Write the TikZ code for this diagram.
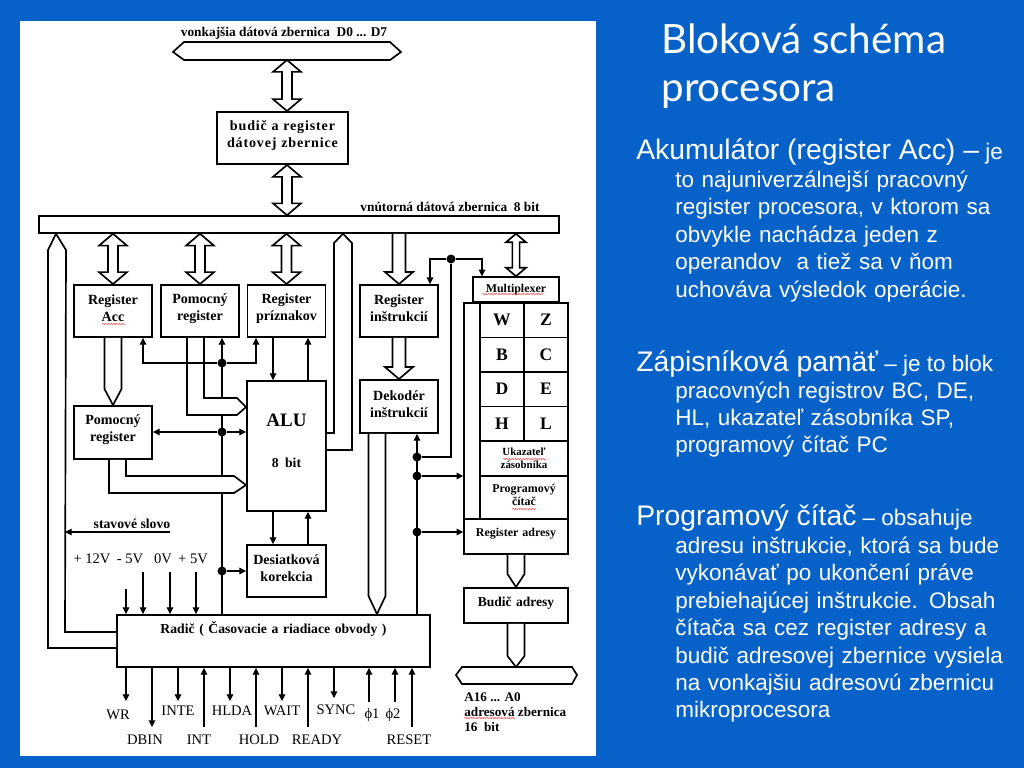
\documentclass[tikz,border=0pt]{standalone}
\usepackage{fontspec}
\setmainfont{Liberation Sans}
\newfontfamily\serifbox{Liberation Serif}
\newfontfamily\serifwide[LetterSpace=6]{Liberation Serif}
\newfontfamily\titlefont{Lato}
\usepackage{tikz}
\usetikzlibrary{calc,arrows.meta,decorations.pathmorphing}
\definecolor{slideblue}{RGB}{6,98,200}
\def\px{0.02cm}
\tikzset{
	sig/.style={line width=0.6pt},
	tip/.style={-{Triangle[length=3.8pt,width=3.8pt]}},
	bus/.style={line width=0.95pt,fill=white,line join=miter},
	basebox/.style={draw,line width=1.1pt,fill=white,inner sep=0pt,text width=74*\px,align=center,
		font=\serifbox\bfseries\fontsize{8}{9.6}\selectfont,minimum width=78*\px,minimum height=52*\px},
	regbox/.style={basebox,execute at end node={\par\kern 3pt}},
	sz/.style 2 args={text width=#1*\px-4*\px,minimum width=#1*\px,minimum height=#2*\px},
	thinbox/.style={line width=0.85pt},
	dot/.style={circle,fill=black,inner sep=0pt,minimum size=9*\px},
	lbl/.style={font=\serifbox\fontsize{8.3}{10}\selectfont,inner sep=0pt},
	blbl/.style={font=\serifbox\bfseries\fontsize{7.6}{9.4}\selectfont,inner sep=0pt},
	parahead/.style={anchor=base west,inner sep=0pt,text=white,font=\fontsize{12.8}{15.6}\selectfont},
	para/.style={parahead,text width=345*\px,align=left},
	wavy/.style={draw=red!75,line width=0.3pt,decorate,decoration={snake,amplitude=0.3pt,segment length=1.6pt}},
}
\newcommand{\headsize}{\fontsize{16.1}{18}\selectfont}
% hollow bus arrows: both ends, one flared end, one plain point
\newcommand{\busboth}[3][14]{
	\draw[bus] (#2) -- ++(-#1,0.85*#1) -- ++(0.64*#1,0) -- ($(#3)+(-0.36*#1,-0.85*#1)$) -- ++(-0.64*#1,0) -- (#3)
		-- ++(#1,-0.85*#1) -- ++(-0.64*#1,0) -- ($(#2)+(0.36*#1,0.85*#1)$) -- ++(0.64*#1,0) -- cycle;
}
\newcommand{\busdown}[2]{
	\draw[bus] ($(#1)+(-6.5,0)$) -- ($(#2)+(-6.5,-12)$) -- ++(-7.5,0) -- (#2) -- ++(14,-12) -- ++(-7.5,0) -- ($(#1)+(6.5,0)$);
}
\newcommand{\buspoint}[3][16]{
	\draw[bus] ($(#2)+(-8.5,0)$) -- ($(#3)+(-8.5,-#1)$) -- (#3) -- ($(#3)+(8.5,-#1)$) -- ($(#2)+(8.5,0)$);
}
\begin{document}
\begin{tikzpicture}[x=\px,y=-\px]
	\useasboundingbox (0,0) rectangle (1024,768);
	\fill[slideblue] (0,0) rectangle (1024,768);
	\fill[white] (20,21) rectangle (596,756);

	% title and text
	\node[anchor=west,inner sep=0pt,text=white,font=\titlefont\fontsize{23}{27}\selectfont,align=left] (title) at (661,66) {Bloková schéma\\procesora};
	\node[parahead] (akuhead) at (636,159.5) {{\headsize Akumulátor (register Acc) –} je};
	\node[para] (akubody) at (675,187.5) {to najuniverzálnejší pracovný\\register procesora, v ktorom sa\\obvykle nachádza jeden z\\operandov\ \ a tiež sa v ňom\\uchováva výsledok operácie.};
	\node[parahead] (zaphead) at (636,371) {{\headsize Zápisníková pamäť} – je to blok};
	\node[para] (zapbody) at (675,398) {pracovných registrov BC, DE,\\HL, ukazateľ zásobníka SP,\\programový čítač PC};
	\node[parahead] (prghead) at (636,525) {{\headsize Programový čítač} – obsahuje};
	\node[para] (prgbody) at (675,553.5) {adresu inštrukcie, ktorá sa bude\\vykonávať po ukončení práve\\prebiehajúcej inštrukcie. Obsah\\čítača sa cez register adresy a\\budič adresovej zbernice vysiela\\na vonkajšiu adresovú zbernicu\\mikroprocesora};

	% boxes
	\node[regbox,sz={131}{52},font=\serifwide\bfseries\fontsize{8}{10}\selectfont] (bufdata) at (282.5,138) {budič a register\\dátovej zbernice};
	\node[basebox,sz={520}{17},thinbox] (ibus) at (299,224.5) {};
	\node[regbox] (regacc) at (113,311) {Register\\Acc};
	\node[regbox] (regpom) at (200,311) {Pomocný\\register};
	\node[regbox] (regflag) at (286.5,311) {Register\\príznakov};
	\node[regbox] (regins) at (399,311) {Register\\inštrukcií};
	\node[regbox,sz={78}{53}] (regaux) at (113,432.5) {Pomocný\\register};
	\node[basebox,sz={79}{130}] (alu) at (286.5,446) {};
	\node[regbox,sz={78}{53}] (dekoder) at (399,406.5) {Dekodér\\inštrukcií};
	\node[regbox,sz={79}{52}] (bcd) at (286.5,571) {Desiatková\\korekcia};
	\node[basebox,sz={313}{52},font=\serifbox\bfseries\fontsize{7.8}{9.6}\selectfont,execute at end node={\par\kern 13.6pt}] (radic) at (273.5,641) {Radič ( Časovacie a riadiace obvody )};

	% right column
	\node[basebox,sz={86}{25},thinbox,font=\serifbox\bfseries\fontsize{6.8}{9}\selectfont] (mux) at (516,289.5) {Multiplexer};
	\node[basebox,sz={16}{216},thinbox] (regcol) at (472,411) {};
	\tikzset{cell/.style={basebox,sz={44}{34.5},thinbox,font=\serifbox\bfseries\fontsize{10}{11}\selectfont}}
	\node[cell] (cw) at (502,320) {W};
	\node[cell] (cz) at (546,320) {Z};
	\node[cell] (cb) at (502,354.5) {B};
	\node[cell] (cc) at (546,354.5) {C};
	\node[cell] (cd) at (502,389) {D};
	\node[cell] (ce) at (546,389) {E};
	\node[cell] (ch) at (502,423.5) {H};
	\node[cell] (cl) at (546,423.5) {L};
	\node[basebox,sz={88}{35},font=\serifbox\bfseries\fontsize{6.2}{7.4}\selectfont] (ukaz) at (524,458.5) {Ukazateľ\\zásobníka};
	\node[regbox,sz={88}{43},thinbox,font=\serifbox\bfseries\fontsize{6.8}{7.5}\selectfont] (progc) at (524,497.5) {Programový\\čítač};
	\node[regbox,sz={104}{35},thinbox,font=\serifbox\bfseries\fontsize{6.8}{9}\selectfont] (regadr) at (516,536.5) {Register adresy};
	\node[regbox,sz={104}{35},font=\serifbox\bfseries\fontsize{7.7}{9.6}\selectfont] (budic) at (516,605.5) {Budič adresy};

	% outer buses
	\draw[bus] (173,52) -- (184,42) -- (390,42) -- (401,52) -- (390,60) -- (184,60) -- cycle;
	\coordinate (extbus) at (287,60);
	\draw[bus] (456,675) -- (462,667) -- (572,667) -- (577,675) -- (572,684) -- (462,684) -- cycle;
	\coordinate (adrbus) at (516,667);

	% main control line, goes under the buses
	\draw[sig,tip] (222,0 |- radic.north) -- (222,0 |- regpom.south);
	\draw[sig,tip] (417,0 |- radic.north) -- (417,0 |- dekoder.south);

	% hollow buses
	\busboth{extbus}{bufdata.north -| extbus}
	\busboth{bufdata.south -| extbus}{ibus.north -| extbus}
	\busboth{ibus.south -| regacc}{regacc.north}
	\busboth{ibus.south -| regpom}{regpom.north}
	\busboth{ibus.south -| regflag}{regflag.north}
	\busboth[10]{ibus.south -| mux}{mux.north}
	\busdown{ibus.south -| regins}{regins.north}
	\busdown{regins.south}{dekoder.north}
	\buspoint{regacc.south}{regaux.north}
	\buspoint[18]{dekoder.south -| 377,0}{radic.north -| 377,0}
	\buspoint[13]{regadr.south}{budic.north}
	\buspoint[11]{budic.south}{adrbus}
	\draw[bus] (187,0 |- regpom.south) -- (187,415) -- (237,415) -- (alu.west |- 0,407) -- (237,398) -- (204,398) -- (204,0 |- regpom.south);
	\draw[bus] (109,0 |- regaux.south) -- (109,493) -- (234,493) -- (alu.west |- 0,485) -- (234,476) -- (126,476) -- (126,0 |- regaux.south);
	\draw[bus] (alu.east |- 0,433) -- (334,433) -- (334,243) -- (343,0 |- ibus.south) -- (352,243) -- (352,450) -- (alu.east |- 0,450);
	\draw[bus] (radic.west |- 0,648) -- (48,648) -- (48,250) -- (56,0 |- ibus.south) -- (66,250) -- (65,632) -- (radic.west |- 0,632);

	% junctions
	\node[dot] (jtop) at (222,363) {};
	\node[dot] (jmid) at (222,432) {};
	\node[dot] (jbcd) at (222,571) {};
	\node[dot] (jdec) at (417,457) {};
	\node[dot] (jreg) at (417,476) {};
	\node[dot] (jadr) at (417,532) {};
	\node[dot] (jmux) at (451,259) {};

	% thin connectors
	\draw[sig,tip] (jtop) -| (143,0 |- regacc.south);
	\draw[sig,tip] (jtop) -| (256,0 |- regflag.south);
	\draw[sig,tip] (jmid) -- (regaux.east |- jmid);
	\draw[sig,tip] (jmid) -- (alu.west |- jmid);
	\draw[sig,tip] (jbcd) -- (bcd.west |- jbcd);
	\draw[sig,tip] (273,0 |- regflag.south) -- (273,0 |- alu.north);
	\draw[sig,tip] (308,0 |- alu.north) -- (308,0 |- regflag.south);
	\draw[sig,tip] (273,0 |- alu.south) -- (273,0 |- bcd.north);
	\draw[sig,tip] (308,0 |- bcd.north) -- (308,0 |- alu.south);
	\draw[sig] (jdec) -| (jmux);
	\draw[sig,tip] (jmux) -| (430,0 |- regins.north);
	\draw[sig,tip] (jmux) -| (482,0 |- mux.north);
	\draw[sig,tip] (jreg) -- (regcol.west |- jreg);
	\draw[sig,tip] (jadr) -- (regadr.west |- jadr);
	\coordinate (stav) at (170,532);
	\draw[sig,tip] (stav) -- (65,532);

	% supply inputs
	\foreach \x/\y in {126/589,143/572,170/572,196/572}
		\draw[sig,tip] (\x,\y) -- (\x,0 |- radic.north);
	% control outputs and inputs
	\foreach \x/\y in {126/701,152/727,178/701,230/701,282/701,334/698}
		\draw[sig,tip] (\x,0 |- radic.south) -- (\x,\y);
	\foreach \x/\y in {204/727,256/727,308/727,369/702,395/702,412/727}
		\draw[sig,tip] (\x,\y) -- (\x,0 |- radic.south);

	% labels
	\node[blbl] (extlbl) at (284,33) {vonkajšia dátová zbernica\ \ D0 ... D7};
	\node[blbl] (intlbl) at (450,207) {vnútorná dátová zbernica\ \ 8 bit};
	\node[lbl,font=\serifbox\bfseries\fontsize{7.8}{9}\selectfont] (stavlbl) at (132,524) {stavové slovo};
	\node[basebox,draw=none,fill=none,font=\serifbox\bfseries\fontsize{10.8}{23.5}\selectfont] (alulbl) at (286.5,441) {ALU\\{\fontsize{7.8}{9}\selectfont 8 bit}};
	\node[lbl] (v12) at (92,559) {+ 12V};
	\node[lbl] (v5n) at (130,559) {- 5V};
	\node[lbl] (v0) at (163,559) {0V};
	\node[lbl] (v5p) at (193,559) {+ 5V};
	\node[lbl] (wr) at (118,715) {WR};
	\node[lbl] (dbin) at (145,740) {DBIN};
	\node[lbl] (inte) at (178,711) {INTE};
	\node[lbl] (int) at (199,740) {INT};
	\node[lbl] (hlda) at (232,711) {HLDA};
	\node[lbl] (hold) at (259,740) {HOLD};
	\node[lbl] (wait) at (282,711) {WAIT};
	\node[lbl] (ready) at (317,740) {READY};
	\node[lbl] (sync) at (336,710) {SYNC};
	\node[lbl] (phia) at (372,715) {ϕ1};
	\node[lbl] (phib) at (393,715) {ϕ2};
	\node[lbl] (reset) at (409,740) {RESET};
	\node[blbl,anchor=north west,align=left,font=\serifbox\bfseries\fontsize{7.5}{8.7}\selectfont] (adrlbl) at (464,692) {A16 ... A0\\adresová zbernica\\16\ \ bit};

	% spell checker marks
	\path[wavy] (102,324) -- (125,324);
	\path[wavy] (482,294) -- (543,294);
	\path[wavy] (503,459) -- (546,459);
	\path[wavy] (512,509) -- (536,509);
	\path[wavy] (464,718) -- (515,718);
\end{tikzpicture}
\end{document}
